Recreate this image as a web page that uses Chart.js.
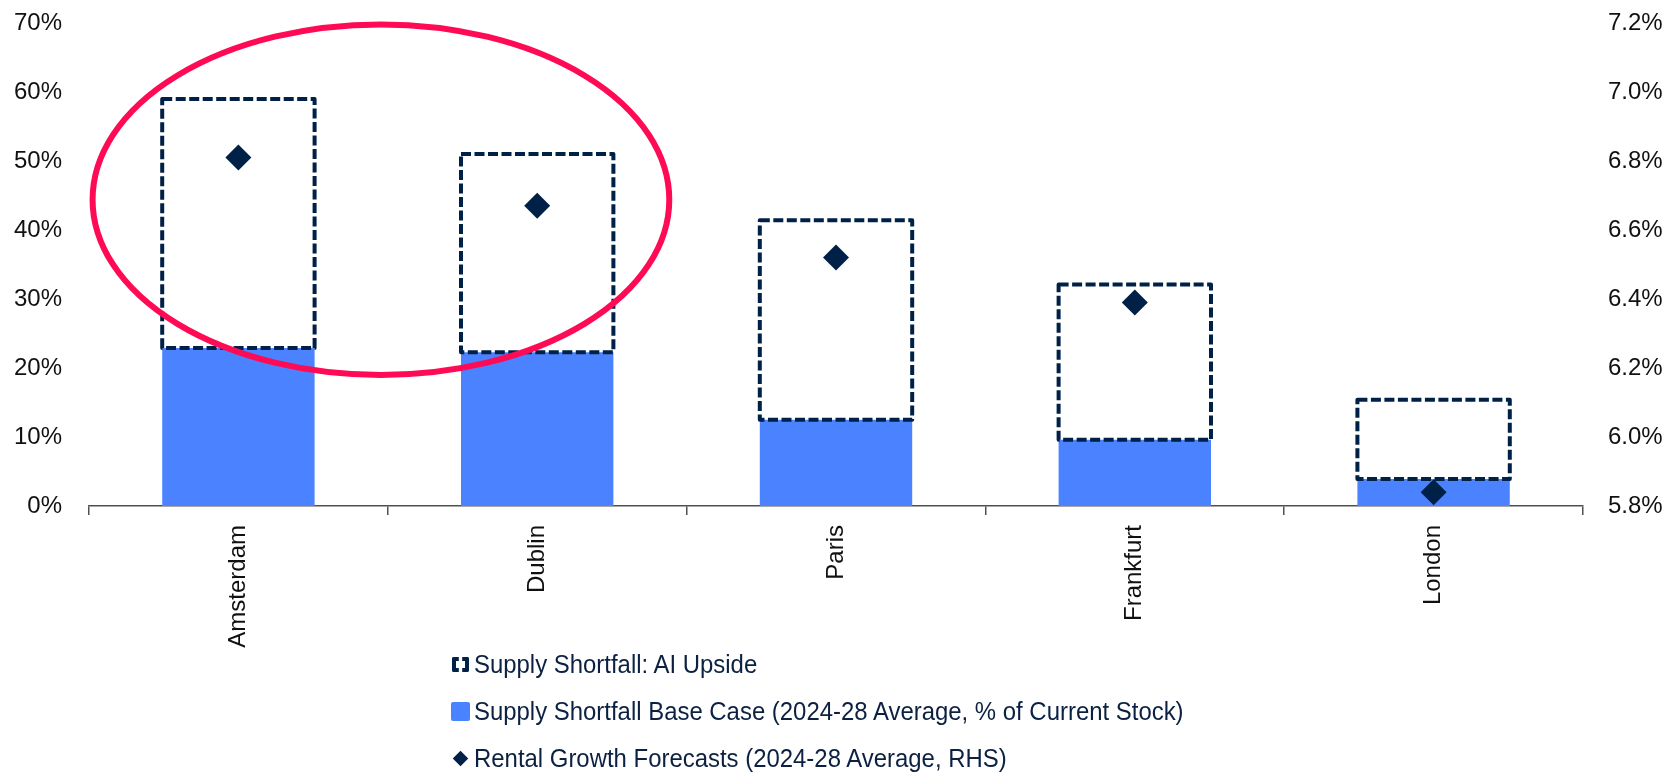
<!DOCTYPE html>
<html>
<head>
<meta charset="utf-8">
<title>Supply Shortfall and Rental Growth</title>
<script src="https://cdn.jsdelivr.net/npm/chart.js@4.4.1/dist/chart.umd.min.js"></script>
<style>
  body { margin: 0; background: #fff; }
  #wrap { position: relative; width: 1665px; height: 774px; }
  #legend {
    position: absolute; left: 451px; top: 641px;
    font-family: "Liberation Sans", Arial, sans-serif;
    font-size: 26px; color: #0c2142;
  }
  .legend-row { height: 47px; display: flex; align-items: center; white-space: nowrap; }
  .legend-text { display: inline-block; transform: scaleX(0.92); transform-origin: left center; }
  .legend-icon { width: 19px; height: 19px; margin-right: 4px; display: flex; align-items: center; justify-content: center; }
  .icon-dash { box-sizing: border-box; width: 17px; height: 15px; border: 4px dashed #002147; border-radius: 2px; }
  .icon-bar { width: 19px; height: 19px; background: #4a82ff; border-radius: 2px; }
  .icon-diamond { width: 11px; height: 11px; background: #002147; transform: rotate(45deg); }
</style>
</head>
<body>
<div id="wrap">
  <canvas id="shortfall-chart"></canvas>
  <div id="legend"></div>
</div>
<script>
// Data
const cities = ["Amsterdam", "Dublin", "Paris", "Frankfurt", "London"];
const baseCase = [22.9, 22.3, 12.5, 9.6, 3.9];        // % of current stock
const aiUpside = [59.0, 51.0, 41.4, 32.1, 15.4];      // total shortfall incl. AI demand
const rentalGrowth = [6.81, 6.67, 6.52, 6.39, 5.84];  // RHS, % p.a.
const leftTicks = [0, 10, 20, 30, 40, 50, 60, 70];
const rightTicks = [5.8, 6.0, 6.2, 6.4, 6.6, 6.8, 7.0, 7.2];

const navy = "#002147";
const blue = "#4a82ff";
const fontFamily = '"Liberation Sans", Arial, sans-serif';

// red ring around Amsterdam / Dublin (category index, % on left axis)
const highlight = { x: 0.477, y: 44.4, rx: 0.965, ry: 25.4 };

// Dashed outline for the AI upside bars
const dashedBars = {
    id: "dashedBars",
    afterDatasetDraw(chart, args) {
        if (chart.data.datasets[args.index].label !== "Supply Shortfall: AI Upside") return;
        const ctx = chart.ctx;
        ctx.save();
        ctx.strokeStyle = navy;
        ctx.lineWidth = 4;
        ctx.lineJoin = "round";
        ctx.setLineDash([10, 3.5]);
        args.meta.data.forEach(bar => {
            const p = bar.getProps(["x", "y", "base", "width"], true);
            ctx.strokeRect(p.x - p.width / 2, p.y, p.width, p.base - p.y);
        });
        ctx.restore();
    }
};

// Highlight ellipse
const ring = {
    id: "ring",
    afterDraw(chart) {
        const x = chart.scales.x;
        const y = chart.scales.y;
        const cx = x.getPixelForValue(highlight.x);
        const cy = y.getPixelForValue(highlight.y);
        const rx = x.getPixelForValue(highlight.x + highlight.rx) - cx;
        const ry = y.getPixelForValue(0) - y.getPixelForValue(highlight.ry);
        const ctx = chart.ctx;
        ctx.save();
        ctx.strokeStyle = "#ff0a55";
        ctx.lineWidth = 6;
        ctx.beginPath();
        ctx.ellipse(cx, cy, rx, ry, 0, 0, Math.PI * 2);
        ctx.stroke();
        ctx.restore();
    }
};

// fixed axis sizes, no extra room for overhanging labels
const fixSize = (w, h) => s => {
    if (w) s.width = w;
    if (h) s.height = h;
    s.paddingTop = s.paddingBottom = s.paddingLeft = s.paddingRight = 0;
};

const tickFont = { family: fontFamily, size: 24 };

const shortfallChart = new Chart(document.getElementById("shortfall-chart"), {
    type: "bar",
    data: {
        labels: cities,
        datasets: [{
            label: "Supply Shortfall: AI Upside",
            data: cities.map((c, i) => [baseCase[i], aiUpside[i]]),
            backgroundColor: "rgba(0,0,0,0)",
            borderWidth: 0,
            order: 1
        }, {
            label: "Supply Shortfall Base Case (2024-28 Average, % of Current Stock)",
            data: baseCase,
            backgroundColor: blue,
            borderWidth: 0,
            order: 2
        }, {
            type: "line",
            label: "Rental Growth Forecasts (2024-28 Average, RHS)",
            data: rentalGrowth,
            yAxisID: "y2",
            showLine: false,
            pointStyle: "rectRot",
            pointRadius: 13,
            pointBackgroundColor: navy,
            pointBorderWidth: 0,
            order: 0
        }]
    },
    options: {
        responsive: true,
        maintainAspectRatio: false,
        animation: false,
        events: [],
        layout: { padding: { top: 23, left: 0, right: 0, bottom: 0 } },
        datasets: {
            bar: { grouped: false, barPercentage: 1, categoryPercentage: 0.51 }
        },
        scales: {
            x: {
                offset: true,
                afterFit: fixSize(0, 268),
                grid: {
                    offset: true,
                    drawOnChartArea: false,
                    drawTicks: true,
                    tickLength: 9,
                    color: "#505050",
                    lineWidth: 1.5
                },
                border: { color: "#505050", width: 1.5 },
                ticks: {
                    minRotation: 90,
                    maxRotation: 90,
                    padding: 10,
                    color: "#111",
                    font: tickFont
                }
            },
            y: {
                position: "left",
                min: 0,
                max: 70,
                afterFit: fixSize(89, 0),
                afterBuildTicks: s => { s.ticks = leftTicks.map(v => ({ value: v })); },
                grid: { display: false, drawTicks: false },
                border: { display: false },
                ticks: {
                    padding: 27,
                    color: "#111",
                    font: tickFont,
                    callback: v => v + "%"
                }
            },
            y2: {
                position: "right",
                min: 5.8,
                max: 7.2,
                afterFit: fixSize(82, 0),
                afterBuildTicks: s => { s.ticks = rightTicks.map(v => ({ value: v })); },
                grid: { display: false, drawTicks: false },
                border: { display: false },
                ticks: {
                    padding: 25,
                    color: "#111",
                    font: tickFont,
                    callback: v => v.toFixed(1) + "%"
                }
            }
        },
        plugins: {
            legend: { display: false },
            tooltip: { enabled: false }
        }
    },
    plugins: [dashedBars, ring]
});

// Legend
const iconClass = ["icon-dash", "icon-bar", "icon-diamond"];
document.getElementById("legend").innerHTML = shortfallChart.data.datasets.map((ds, i) =>
    `<div class="legend-row"><span class="legend-icon"><span class="${iconClass[i]}"></span></span><span class="legend-text">${ds.label}</span></div>`
).join("");
</script>
</body>
</html>
